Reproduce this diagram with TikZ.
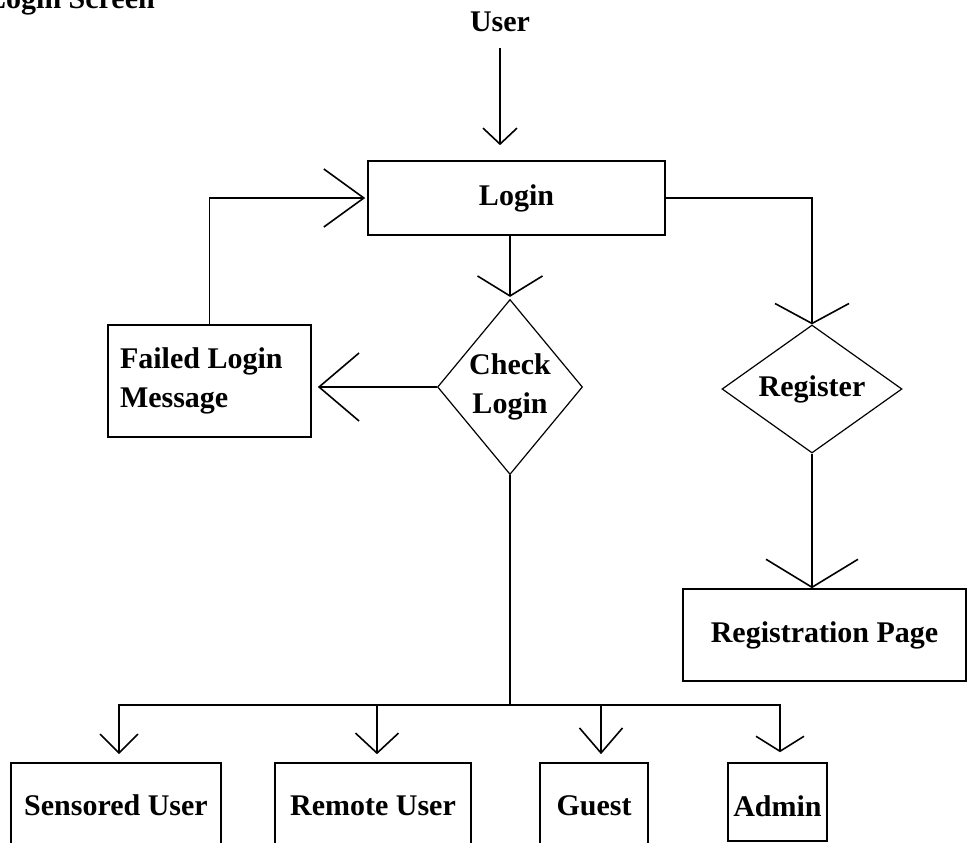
\documentclass[tikz,border=0pt]{standalone}
\usepackage{fontspec}
\setmainfont{Liberation Serif}
\usetikzlibrary{arrows.meta,shapes.geometric}
\tikzset{
  txt/.style={font=\fontsize{30}{39}\selectfont\bfseries},
  box/.style={txt, draw, line width=1.6pt, inner sep=0pt, align=center},
  decision/.style={txt, draw, diamond, line width=1.2pt, inner sep=0pt, align=center},
  link/.style={line width=1.6pt},
  barb/.style 2 args={link, -{Straight Barb[length=#1, width=#2]}},
}
\begin{document}
\begin{tikzpicture}[x=1pt,y=-1pt]
\useasboundingbox (0,0) rectangle (969,843);

% heading and entry point
\node[txt, anchor=base east, inner sep=0pt] (title) at (155,9) {Login Screen};
\node[txt, anchor=base, inner sep=0pt] (user) at (500,32) {User};

% main steps
\node[box, minimum width=297pt, minimum height=74pt] (login) at (516.5,198) {Login};
\node[decision, shape aspect=0.83, minimum width=145pt, minimum height=175pt] (check) at (510,387) {Check\\Login};
\node[decision, shape aspect=1.4, minimum width=180pt, minimum height=128pt] (register) at (812,389) {Register};
\node[box, minimum height=112pt, text width=179pt, inner xsep=12pt, align=flush left] (failed) at (209.5,381) {Failed Login\\Message};
\node[box, minimum width=283pt, minimum height=92pt] (regpage) at (824.5,635) {Registration Page};

% user roles
\node[box, minimum width=210pt, minimum height=85pt] (sensored) at (116,805.5) {Sensored User};
\node[box, minimum width=196pt, minimum height=85pt] (remote) at (373,805.5) {Remote User};
\node[box, minimum width=108pt, minimum height=85pt] (guest) at (594,805.5) {Guest};
\node[box, minimum width=99pt, minimum height=78pt, text height=28.5pt, text depth=0pt] (admin) at (777.5,802) {Admin};

% flow
\draw[barb={16pt}{34pt}, shorten <=16pt, shorten >=15pt] (user.south) -- (user.south |- login.north);
\draw[barb={20pt}{65pt}, shorten >=2pt] (check.north |- login.south) -- (check.north);
\draw[barb={20pt}{74pt}] (login.east) -| (register.north);
\draw[barb={28pt}{92pt}] (register.south) -- (register.south |- regpage.north);
\draw[barb={40pt}{68pt}, shorten >=6pt] (check.west) -- (check.west -| failed.east);
\draw[barb={40pt}{58pt}, shorten >=2pt] (failed.north) |- (login.west);

% branch to the roles
\coordinate (bus) at (510,705);
\draw[link] (check.south) -- (bus);
\draw[barb={19pt}{38pt}, shorten >=8pt] (bus) -| ([xshift=3pt]sensored.north);
\draw[barb={20pt}{43pt}, shorten >=8pt] (bus) -| ([xshift=4pt]remote.north);
\draw[barb={25pt}{43pt}, shorten >=8pt] (bus) -| ([xshift=7pt]guest.north);
\draw[barb={15pt}{48pt}, shorten >=10pt] (bus) -| ([xshift=2.5pt]admin.north);
\end{tikzpicture}
\end{document}
